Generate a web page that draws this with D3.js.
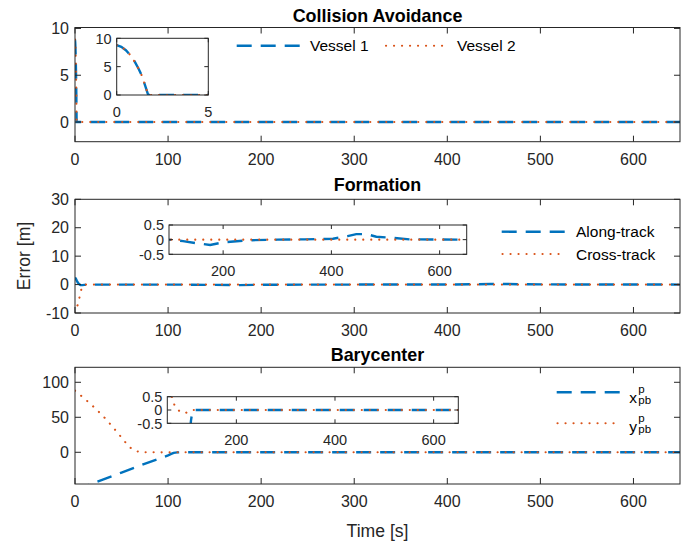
<!DOCTYPE html>
<html><head><meta charset="utf-8">
<script src="https://cdn.jsdelivr.net/npm/d3@7"></script>
<style>
body{margin:0;background:#fff;}
svg{display:block;font-family:"Liberation Sans",Arial,Helvetica,sans-serif;}
</style></head>
<body><svg id="c" width="691" height="545"></svg>
<script>
// ---------- DATA ----------
const xTicksMain = [0,100,200,300,400,500,600];
const insetXTicks = [200,400,600];
const insetYTicks = [-0.5,0,0.5];

// Collision Avoidance
const vessel1 = [[0,8.8],[0.25,8.5],[0.5,7.9],[0.75,7.0],[1,5.8],[1.2,4.6],[1.36,3.5],[1.5,2.2],[1.62,1.0],[1.72,0],[650,0]];
const vessel2 = [[0,8.8],[0.25,8.5],[0.5,7.9],[0.75,7.0],[1,5.8],[1.2,4.6],[1.36,3.5],[1.5,2.2],[1.62,1.0],[1.72,0],[650,0]];
const caYTicks = [0,5,10];
const caInsetXTicks = [0,5];
const caInsetYTicks = [0,5,10];

// Formation
const alongTrack = [[0,2.5],[1,2.0],[2,1.3],[3,0.7],[4,0.3],[5,0.05],[6,-0.2],[8,-0.2],[10,-0.1],[20,0],[100,0],[126,-0.05],[150,-0.12],[176,-0.18],[200,-0.09],[250,-0.02],[300,0],[350,0.01],[403,0.03],[430,0.12],[446,0.19],[465,0.19],[483,0.1],[508,0.07],[545,0.01],[650,0]];
const crossTrack = [[0,-10],[1.5,-8.5],[3,-7],[4.7,-4.7],[6.5,-2],[8,-0.5],[10,0],[650,0]];
const fYTicks = [-10,0,10,20,30];

// Barycenter
const xpb = [[0,-54],[16,-46],[50,-29],[80,-14],[100,-4.5],[104,-2],[106,-0.8],[108,-0.4],[110,-0.15],[113,0],[650,0]];
const ypb = [[0,88],[10,77],[20,65],[30,52],[40,37],[50,21],[58,8],[64,2.5],[69,0.5],[76,0.1],[86,-0.06],[96,-0.12],[105,-0.05],[112,0],[650,0]];
const bYTicks = [0,50,100];

// ---------- STYLE ----------
const BLUE = "#0072BD", ORANGE = "#D95319", AX = "#262626";
const svg = d3.select("#c");
let clipId = 0;

function drawAxes(g, x, y, xt, yt, opt){
  const [x0,x1] = x.range(), [y1,y0] = y.range();
  const tl = opt.tick, fs = opt.fs;
  if(opt.bg) g.append("rect").attr("x",x0).attr("y",y0).attr("width",x1-x0).attr("height",y1-y0).attr("fill","#fff");
  return function(){
    const a = g.append("g");
    xt.forEach(v=>{
      const px = x(v);
      a.append("line").attr("x1",px).attr("x2",px).attr("y1",y1).attr("y2",y1-tl).attr("stroke",AX);
      a.append("line").attr("x1",px).attr("x2",px).attr("y1",y0).attr("y2",y0+tl).attr("stroke",AX);
      a.append("text").attr("x",px).attr("y",y1+opt.xoff).attr("text-anchor","middle").attr("font-size",fs).attr("fill",AX).text(String(v));
    });
    yt.forEach(v=>{
      const py = y(v);
      a.append("line").attr("x1",x0).attr("x2",x0+tl).attr("y1",py).attr("y2",py).attr("stroke",AX);
      a.append("line").attr("x1",x1).attr("x2",x1-tl).attr("y1",py).attr("y2",py).attr("stroke",AX);
      a.append("text").attr("x",x0-opt.yoff).attr("y",py).attr("dy","0.36em").attr("text-anchor","end").attr("font-size",fs).attr("fill",AX).text(String(v));
    });
    a.append("rect").attr("x",x0).attr("y",y0).attr("width",x1-x0).attr("height",y1-y0).attr("fill","none").attr("stroke",AX).attr("stroke-width",1);
  };
}

function drawLines(g, x, y, series){
  const id = "clip"+(clipId++);
  const [x0,x1] = x.range(), [y1,y0] = y.range();
  g.append("clipPath").attr("id",id).append("rect").attr("x",x0).attr("y",y0).attr("width",x1-x0).attr("height",y1-y0);
  const gl = g.append("g").attr("clip-path",`url(#${id})`);
  const line = d3.line().x(d=>x(d[0])).y(d=>y(d[1]));
  series.forEach(s=>{
    gl.append("path").attr("d",line(s.data)).attr("fill","none").attr("stroke",s.color)
      .attr("stroke-width",s.w).attr("stroke-dasharray",s.dash).attr("stroke-linecap",s.cap||"butt");
  });
}

function styleBlue(data){return {data, color:BLUE, w:2.4, dash:"15,9"};}
function styleOrange(data){return {data, color:ORANGE, w:2.1, dash:"0.1,7.9", cap:"round"};}

function panel(cfg){
  const g = svg.append("g");
  const x = d3.scaleLinear().domain([0,650]).range([75,680]);
  const y = d3.scaleLinear().domain(cfg.yDom).range([cfg.bottom,cfg.top]);
  const fin = drawAxes(g,x,y,xTicksMain,cfg.yTicks,{tick:6,fs:16,xoff:23,yoff:6});
  drawLines(g,x,y,[styleBlue(cfg.s1),styleOrange(cfg.s2)]);
  fin();
  g.append("text").attr("x",377.5).attr("y",cfg.titleY).attr("text-anchor","middle").attr("font-weight","bold").attr("font-size",17.9).attr("fill","#000").text(cfg.title);
  const ix = d3.scaleLinear().domain(cfg.inX).range(cfg.inXR);
  const iy = d3.scaleLinear().domain(cfg.inY).range(cfg.inYR);
  const fin2 = drawAxes(g,ix,iy,cfg.inXT,cfg.inYT,{tick:4,fs:14.5,xoff:21.5,yoff:5,bg:true});
  drawLines(g,ix,iy,[styleBlue(cfg.s1),styleOrange(cfg.s2)]);
  fin2();
  return g;
}

panel({title:"Collision Avoidance",titleY:21.5,top:27.5,bottom:141.7,yDom:[-2.1,10.1],yTicks:caYTicks,
  s1:vessel1,s2:vessel2,inX:[0,5],inXR:[116.7,208.3],inY:[0,10],inYR:[95,38.3],inXT:caInsetXTicks,inYT:caInsetYTicks});
panel({title:"Formation",titleY:191,top:199.3,bottom:313,yDom:[-10,30],yTicks:fYTicks,
  s1:alongTrack,s2:crossTrack,inX:[100,650],inXR:[169,466.7],inY:[-0.5,0.5],inYR:[254.3,225],inXT:insetXTicks,inYT:insetYTicks});
panel({title:"Barycenter",titleY:360.5,top:367.3,bottom:484,yDom:[-45.3,121.4],yTicks:bYTicks,
  s1:xpb,s2:ypb,inX:[60,650],inXR:[167.3,458.3],inY:[-0.5,0.5],inYR:[423.3,396.7],inXT:insetXTicks,inYT:insetYTicks});

function legLine(x1,x2,yy,st){
  svg.append("line").attr("x1",x1).attr("x2",x2).attr("y1",yy).attr("y2",yy).attr("stroke",st.color)
    .attr("stroke-width",st.w).attr("stroke-dasharray",st.dash).attr("stroke-linecap",st.cap||"butt");
}
function legText(xx,yy,t){
  svg.append("text").attr("x",xx).attr("y",yy).attr("font-size",15.5).attr("fill","#000").text(t);
}
legLine(236.7,303.3,45.7,styleBlue([])); legText(310,51,"Vessel 1");
legLine(386,449,45.7,styleOrange([])); legText(457,51,"Vessel 2");
legLine(501.7,570,231.7,styleBlue([])); legText(576,237,"Along-track");
legLine(502.5,566,254,styleOrange([])); legText(576,259.5,"Cross-track");
legLine(556.7,623.3,392.3,styleBlue([]));
legLine(557.5,621,423.3,styleOrange([]));
function subsup(xx,yy,base){
  svg.append("text").attr("x",xx).attr("y",yy).attr("font-size",15.5).attr("fill","#000").text(base);
  svg.append("text").attr("x",xx+9).attr("y",yy-10).attr("font-size",11.5).attr("fill","#000").text("p");
  svg.append("text").attr("x",xx+9).attr("y",yy+1.5).attr("font-size",11.5).attr("fill","#000").text("pb");
}
subsup(629.3,402.5,"x");
subsup(629.3,431.5,"y");

svg.append("text").attr("transform","translate(30,256) rotate(-90)").attr("text-anchor","middle").attr("font-size",17.6).attr("fill",AX).text("Error [m]");
svg.append("text").attr("x",377.5).attr("y",537).attr("text-anchor","middle").attr("font-size",17.6).attr("fill",AX).text("Time [s]");
</script></body></html>
